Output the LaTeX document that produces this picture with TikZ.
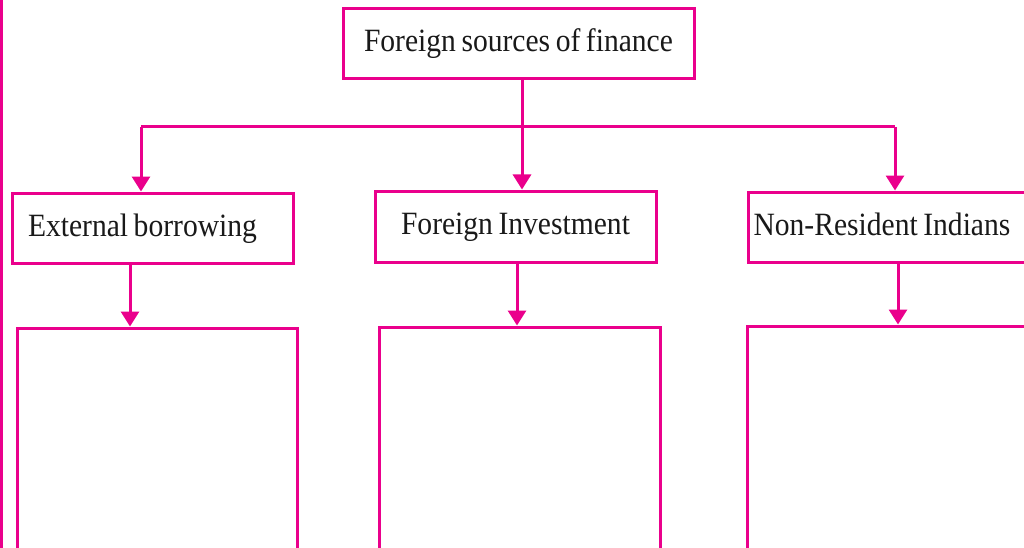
\documentclass[tikz,border=0pt]{standalone}
\usepackage{fontspec}
\setmainfont[FakeStretch=0.91,WordSpace=0.75]{Liberation Serif}
\usetikzlibrary{arrows.meta}
\definecolor{pk}{RGB}{234,0,140}
\begin{document}
\begin{tikzpicture}[x=1pt,y=-1pt,line width=3pt,
  box/.style={draw=pk,inner sep=0pt,font=\fontsize{32.5}{36}\selectfont,text=black!90,text height=23pt,text depth=7pt},
  emptybox/.style={draw=pk,inner sep=0pt},
  conn/.style={draw=pk,-{Triangle[width=18pt,length=15pt]}},
  plain/.style={draw=pk}]
\useasboundingbox (0,0) rectangle (1024,548);
\clip (0,0) rectangle (1024,548);
\fill[white] (0,0) rectangle (1024,548);
% margin line
\coordinate (mt) at (1.5,0);
\coordinate (mb) at (1.5,548);
\draw[plain,line width=3pt] (mt) -- (mb);
% boxes
\node[box,minimum width=351pt,minimum height=70pt] (top) at (518.5,44) {Foreign sources of finance};
\node[box,minimum width=281pt,minimum height=70pt,text width=249pt,inner xsep=16pt,align=flush left] (eb) at (152.5,228) {External borrowing};
\node[box,minimum width=281pt,minimum height=71pt] (fi) at (515.5,226.5) {Foreign Investment};
\node[box,anchor=west,minimum height=70pt,text width=290pt,inner xsep=5pt,align=flush left] (nri) at (747,227) {Non-Resident Indians};
\node[emptybox,minimum width=280pt,minimum height=272pt] (ebl) at (157,464) {};
\node[emptybox,minimum width=281pt,minimum height=274pt] (fil) at (519.5,464) {};
\node[emptybox,minimum width=302pt,minimum height=276pt] (nril) at (898,464) {};
% connectors
\coordinate (hl) at (141,127);
\coordinate (hm) at (522,127);
\coordinate (hr) at (895,127);
\draw[plain] (hm |- top.south) -- (hm);
\draw[plain] (hl) -- (hr);
\draw[conn] (hl) -- (hl |- eb.north);
\draw[conn] (hm) -- (hm |- fi.north);
\draw[conn] (hr) -- (hr |- nri.north);
\coordinate (ea) at (130,0);
\coordinate (fa) at (517,0);
\coordinate (na) at (898,0);
\draw[conn] (ea |- eb.south) -- (ea |- ebl.north);
\draw[conn] (fa |- fi.south) -- (fa |- fil.north);
\draw[conn] (na |- nri.south) -- (na |- nril.north);
\end{tikzpicture}
\end{document}
